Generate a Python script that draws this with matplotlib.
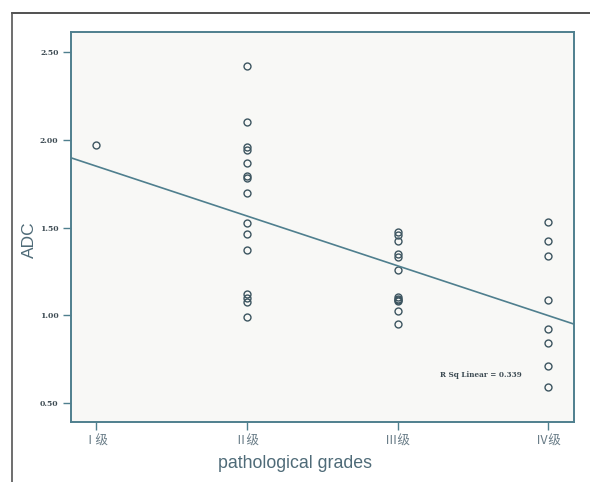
import matplotlib
matplotlib.use("Agg")
import matplotlib.pyplot as plt
from matplotlib.lines import Line2D
import numpy as np

# Data
grade_labels = ["Ⅰ级", "Ⅱ级", "Ⅲ级", "Ⅳ级"]
grade_I = [1.97]
grade_II = [2.42, 2.10, 1.956, 1.943, 1.87, 1.795, 1.78, 1.696, 1.527, 1.464, 1.374,
            1.124, 1.101, 1.076, 0.99]
grade_III = [1.473, 1.458, 1.426, 1.35, 1.333, 1.257, 1.104, 1.09, 1.088, 1.082,
             1.027, 0.953]
grade_IV = [1.53, 1.426, 1.34, 1.086, 0.924, 0.842, 0.711, 0.591]
fit_intercept = 2.134
fit_slope = -0.284
r2_text = "R Sq Linear = 0.339"
y_ticks = [0.50, 1.00, 1.50, 2.00, 2.50]

spine_c = "#4f7f8e"
W, H = 590, 482
fig = plt.figure(figsize=(5.9, 4.82), dpi=100)
fig.patch.set_facecolor("white")
ax = fig.add_axes([71/W, 1-422/H, (574-71)/W, (422-32)/H])
ax.set_facecolor("#f8f8f6")

groups = [grade_I, grade_II, grade_III, grade_IV]
for i, g in enumerate(groups, start=1):
    ax.plot([i]*len(g), g, linestyle="none", marker="o", markersize=5,
            markerfacecolor="none", markeredgecolor="#3d5560", markeredgewidth=1.0)

xlim = (0.834, 4.17)
ax.set_xlim(*xlim)
ax.set_ylim(0.392, 2.614)
xs = np.array(xlim)
ax.plot(xs, fit_intercept + fit_slope*xs, color=spine_c, lw=1.2)

ax.set_xticks([1, 2, 3, 4])
ax.set_xticklabels(grade_labels, family=["Noto Sans CJK SC", "DejaVu Sans"],
                   fontsize=9, color="#6a7d88")
ax.set_yticks(y_ticks)
ax.set_yticklabels([f"{v:.2f}" for v in y_ticks], family="DejaVu Serif",
                   fontsize=5.5, fontweight="bold", color="#3c4a52")
ax.tick_params(axis="both", direction="out", length=6, width=1.0, color=spine_c)
ax.tick_params(axis="x", pad=3)
ax.tick_params(axis="y", pad=3)
for s in ax.spines.values():
    s.set_color(spine_c)
    s.set_linewidth(1.4)

fig.text(295.5/W, 1-463/H, "pathological grades", family="Liberation Sans",
         fontsize=12.8, color="#4f6b78", ha="center", va="center")
fig.text(29/W, 1-240/H, "ADC", family="Liberation Sans", fontsize=12.5,
         color="#4f6b78", ha="center", va="center", rotation=90)

ax.text(3.55, 0.66, r2_text, family="DejaVu Serif", fontsize=5.2, fontweight="bold",
        color="#3c4a52", ha="center", va="center")

# outer frame (top and left)
fig.add_artist(Line2D([12/W, 1.0], [1-13/H, 1-13/H], color="#333333",
                      lw=1.2, transform=fig.transFigure))
fig.add_artist(Line2D([12/W, 12/W], [0, 1-13/H], color="#555555",
                      lw=1.2, transform=fig.transFigure))

fig.savefig("out.png", dpi=100)
